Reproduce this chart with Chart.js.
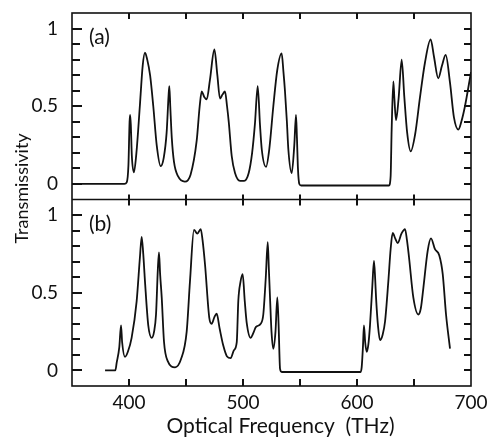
<!DOCTYPE html>
<html>
<head>
<meta charset="utf-8">
<script src="https://cdn.jsdelivr.net/npm/chart.js@4/dist/chart.umd.min.js"></script>
<style>
html,body{margin:0;padding:0;background:#fff;}
#wrap{width:490px;height:439px;position:relative;}
</style>
</head>
<body>
<div id="wrap"><canvas id="c" width="490" height="439"></canvas></div>
<script>
// ---- data ----
const freqA = [350,396,398,399.5,400.5,401,401.6,402.5,404.3,406.5,409.5,412,414,416,418.5,421.3,424.3,427.8,430.5,433,434.8,435.4,436.2,437.5,439.5,443,449,454,459.4,462,463.8,466,468.2,471,474.9,477.5,479.8,482,484.2,486,487.5,490.1,493,497.4,501,505,508,510.5,512.9,514.9,516.5,520.2,523,526.6,530,533.9,535.5,536.8,538.5,539.8,542.7,545,546.5,547.3,548.2,549.4,551,628,629.5,630.4,631.9,632.8,634.2,636.5,639.2,641.5,644,647.1,651,655.3,659.6,664.6,667.5,671.3,674.5,677.8,681.6,685,688.9,691.5,694.7,700];
const transA = [0,0,0.01,0.12,0.40,0.445,0.38,0.18,0.075,0.20,0.50,0.76,0.845,0.80,0.70,0.50,0.25,0.115,0.17,0.33,0.58,0.63,0.50,0.30,0.14,0.05,0.015,0.06,0.28,0.50,0.595,0.56,0.545,0.67,0.865,0.70,0.55,0.575,0.595,0.50,0.40,0.18,0.07,0.02,0.02,0.07,0.20,0.39,0.63,0.38,0.22,0.11,0.22,0.50,0.73,0.84,0.72,0.60,0.40,0.22,0.07,0.25,0.445,0.30,0.10,0.0,-0.01,-0.01,0.05,0.35,0.66,0.55,0.41,0.55,0.80,0.56,0.33,0.21,0.32,0.56,0.78,0.93,0.82,0.68,0.76,0.83,0.65,0.43,0.35,0.40,0.50,0.72];

const freqB = [379,388,389.2,391.5,393,394,396.5,399,402.3,406.7,409.6,411.1,412.5,414,416.9,419.9,422,423.7,425.3,426.3,427.3,428.7,430.7,434,440.4,445.5,450.6,453.5,457,459.9,462.9,464.5,466.7,470.4,472.5,475,476.9,479.5,482.7,486,489.2,492,494.5,495.9,497.8,499.7,501.5,503.2,506.7,509,511.4,515.5,517.8,520,521.7,522.7,523.7,525,526.6,528.5,530.1,531.2,532.5,534,603,604.1,605.2,606.1,607.2,608.5,610,611.4,613.5,614.9,616,616.7,618.5,620.2,622.5,624.6,627.5,629.5,631.3,633.5,635.7,639,642.1,643.8,645.6,649.4,653.8,656,658.2,662,664.9,668.4,672.2,675.2,678.1,681.6];
const transB = [0,0,0.05,0.15,0.29,0.18,0.087,0.12,0.21,0.445,0.73,0.86,0.75,0.575,0.29,0.21,0.25,0.36,0.65,0.76,0.62,0.47,0.185,0.06,0.02,0.07,0.25,0.575,0.905,0.88,0.91,0.84,0.68,0.34,0.30,0.345,0.365,0.27,0.16,0.09,0.08,0.13,0.18,0.45,0.57,0.62,0.45,0.31,0.21,0.24,0.28,0.30,0.36,0.60,0.825,0.65,0.47,0.25,0.14,0.25,0.47,0.30,0.01,-0.01,-0.01,0.02,0.15,0.29,0.18,0.12,0.17,0.29,0.55,0.705,0.58,0.47,0.28,0.195,0.23,0.315,0.575,0.78,0.885,0.85,0.82,0.88,0.91,0.84,0.73,0.47,0.36,0.40,0.53,0.77,0.85,0.78,0.74,0.62,0.36,0.14];

const xTickLabels = [400, 500, 600, 700];
const xTickMarks = [400, 450, 500, 550, 600, 650];
const yTickLabels = [0, 0.5, 1];
const yTickMarks = [0, 0.1, 0.2, 0.3, 0.4, 0.5, 0.6, 0.7, 0.8, 0.9, 1.0];
const panelLabels = ['(a)', '(b)'];
const xTitle = 'Optical Frequency  (THz)';
const yTitle = 'Transmissivity';

// ---- helpers ----
const FONT = 'Lato, "Liberation Sans", sans-serif';
const INK = '#111';
const toPts = (xs, ys) => xs.map((x, i) => ({x: x, y: ys[i]}));
const isLabelled = (v, list) => list.some(t => Math.abs(v - t) < 1e-6);

const framePlugin = {
  id: 'frame',
  afterDraw(chart) {
    const ctx = chart.ctx;
    const area = chart.chartArea;
    const xs = chart.scales.x, ya = chart.scales.ya, yb = chart.scales.yb;
    const L = area.left, R = area.right, T = area.top, B = area.bottom;
    const sep = ya.bottom;
    ctx.save();
    ctx.fillStyle = INK;

    // inward tick marks
    xTickMarks.forEach(v => {
      const p = Math.round(xs.getPixelForValue(v));
      ctx.fillRect(p - 1, T, 2, 6);
      ctx.fillRect(p - 1, sep - 5, 2, 11);
      ctx.fillRect(p - 1, B - 7, 2, 7);
    });
    [ya, yb].forEach(s => {
      yTickMarks.forEach(v => {
        const p = Math.round(s.getPixelForValue(v));
        const major = isLabelled(v, yTickLabels);
        ctx.fillRect(L, p - 1, major ? 10 : 8, 2);
        ctx.fillRect(R - 7, p - 1, 7, 2);
      });
    });

    // frame + separator
    ctx.strokeStyle = INK;
    ctx.lineWidth = 1.6;
    ctx.strokeRect(L, T, R - L, B - T);
    ctx.beginPath();
    ctx.moveTo(L, sep); ctx.lineTo(R, sep);
    ctx.stroke();

    // texts
    ctx.font = '21px ' + FONT;
    ctx.textAlign = 'left';
    ctx.textBaseline = 'middle';
    ctx.fillText(panelLabels[0], L + 17, ya.top + 24);
    ctx.fillText(panelLabels[1], L + 17, yb.top + 25);

    ctx.textAlign = 'center';
    ctx.textBaseline = 'alphabetic';
    ctx.fillText(xTitle, (L + R) / 2 + 9, 433);

    ctx.save();
    ctx.translate(28, (T + B) / 2 - 11);
    ctx.rotate(-Math.PI / 2);
    ctx.font = '18px ' + FONT;
    ctx.textAlign = 'center';
    ctx.fillText(yTitle, 0, 0);
    ctx.restore();
    ctx.restore();
  }
};

const lineStyle = {
  borderColor: INK,
  borderWidth: 1.8,
  pointRadius: 0,
  fill: false,
  cubicInterpolationMode: 'monotone'
};

const yScale = (w) => ({
  type: 'linear',
  position: 'left',
  stack: 'panels',
  stackWeight: 1,
  weight: w,
  min: -0.1,
  max: 1.1,
  grid: {display: false},
  border: {display: false},
  ticks: {
    stepSize: 0.1,
    autoSkip: false,
    padding: 6,
    color: INK,
    font: {family: FONT, size: 19},
    callback: (v) => {
      const m = yTickLabels.find(t => Math.abs(v - t) < 1e-6);
      return m === undefined ? '' : String(m);
    }
  },
  afterFit: (s) => { s.width = 72; s.paddingTop = 0; s.paddingBottom = 0; }
});

new Chart(document.getElementById('c'), {
  type: 'line',
  data: {
    datasets: [
      Object.assign({label: 'a', data: toPts(freqA, transA), yAxisID: 'ya'}, lineStyle),
      Object.assign({label: 'b', data: toPts(freqB, transB), yAxisID: 'yb'}, lineStyle)
    ]
  },
  options: {
    responsive: false,
    animation: false,
    devicePixelRatio: 1,
    layout: {padding: {top: 13, right: 19, left: 0, bottom: 0}},
    plugins: {legend: {display: false}, tooltip: {enabled: false}},
    scales: {
      x: {
        type: 'linear',
        position: 'bottom',
        min: 350,
        max: 700,
        grid: {display: false},
        border: {display: false},
        ticks: {
          stepSize: 50,
          autoSkip: false,
          maxRotation: 0,
          padding: -3,
          color: INK,
          font: {family: FONT, size: 19},
          callback: (v) => {
            const m = xTickLabels.find(t => Math.abs(v - t) < 1e-6);
            return m === undefined ? '' : String(m);
          }
        },
        afterFit: (s) => { s.height = 53; s.paddingLeft = 0; s.paddingRight = 0; }
      },
      ya: yScale(1),
      yb: yScale(0)
    }
  },
  plugins: [framePlugin]
});
</script>
</body>
</html>
